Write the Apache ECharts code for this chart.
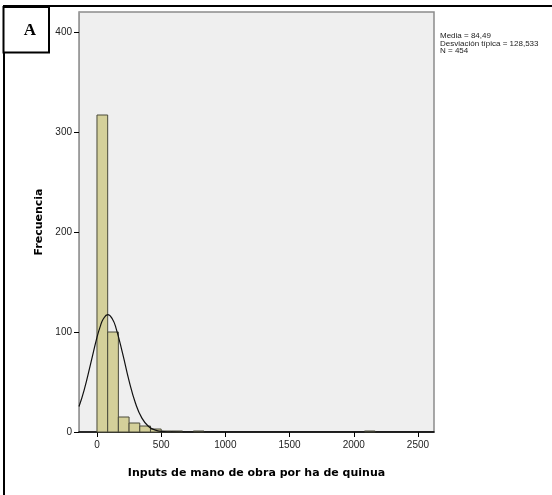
<!DOCTYPE html>
<html>
<head>
<meta charset="utf-8">
<title>Histograma</title>
<script src="https://cdn.jsdelivr.net/npm/echarts@6/dist/echarts.min.js"></script>
<style>
    html, body { margin: 0; padding: 0; background: #fff; }
    #chart { width: 552px; height: 495px; }
</style>
</head>
<body>
<div id="chart"></div>
<script>
// datos del histograma (solo los intervalos con frecuencia)
var binLow   = [0, 83.33, 166.67, 250, 333.33, 416.67, 500, 583.33, 750, 2083.33];
var binHigh  = [83.33, 166.67, 250, 333.33, 416.67, 500, 583.33, 666.67, 833.33, 2166.67];
var binCount = [317, 100, 15, 9, 6, 3, 1, 1, 1, 1];

// curva normal
var curveX = [-140, -100, -50, 0, 25, 50, 84.5, 120, 150, 200, 250, 300, 350, 400, 450, 500, 600, 800, 2625];
var curveY = [25.5, 41.9, 67.9, 94.6, 105.4, 113.2, 117.4, 113.0, 103.1, 78.4, 51.2, 28.8, 13.9, 5.8, 2.1, 0.6, 0.05, 0, 0];

// ejes
var xTicks = [0, 500, 1000, 1500, 2000, 2500];
var yTicks = [0, 100, 200, 300, 400];

var statsText = ['Media = 84,49', 'Desviación típica = 128,533', 'N = 454'];

var chart = echarts.init(document.getElementById('chart'));

var barData = [];
for (var i = 0; i < binCount.length; i++) {
    barData.push([binLow[i], binHigh[i], binCount[i]]);
}
var curveData = [];
for (var j = 0; j < curveX.length; j++) {
    curveData.push([curveX[j], curveY[j]]);
}

var option = {
    backgroundColor: '#fff',
    animation: false,
    grid: {
        left: 79,
        top: 12,
        right: 118,
        bottom: 63,
        show: true,
        backgroundColor: '#efefef',
        borderColor: '#8c8c8c',
        borderWidth: 1.5
    },
    xAxis: {
        type: 'value',
        min: -140,
        max: 2625,
        name: 'Inputs de mano de obra por ha de quinua',
        nameLocation: 'middle',
        nameGap: 36,
        nameTextStyle: {
            fontFamily: 'DejaVu Sans',
            fontWeight: 'bold',
            fontSize: 11,
            color: '#000'
        },
        splitLine: {show: false},
        axisLine: {onZero: false, lineStyle: {color: '#000', width: 1.5}},
        axisTick: {
            customValues: xTicks,
            length: 5,
            lineStyle: {color: '#000'}
        },
        axisLabel: {
            customValues: xTicks,
            margin: 8,
            fontFamily: 'Liberation Sans',
            fontSize: 10,
            color: '#222',
            formatter: function (v) { return String(v); }
        }
    },
    yAxis: {
        type: 'value',
        min: 0,
        max: 420,
        name: 'Frecuencia',
        nameLocation: 'middle',
        nameGap: 33,
        nameRotate: 90,
        nameTextStyle: {
            fontFamily: 'DejaVu Sans',
            fontWeight: 'bold',
            fontSize: 11,
            color: '#000'
        },
        splitLine: {show: false},
        axisLine: {show: true, onZero: false, lineStyle: {color: '#9a9a9a'}},
        axisTick: {
            show: true,
            customValues: yTicks,
            length: 5,
            lineStyle: {color: '#000'}
        },
        axisLabel: {
            customValues: yTicks,
            margin: 7,
            fontFamily: 'Liberation Sans',
            fontSize: 10,
            color: '#222'
        }
    },
    series: [
        {
            // barras del histograma
            type: 'custom',
            data: barData,
            encode: {x: [0, 1], y: 2},
            renderItem: function (params, api) {
                var p0 = api.coord([api.value(0), 0]);
                var p1 = api.coord([api.value(1), api.value(2)]);
                return {
                    type: 'rect',
                    shape: {
                        x: p0[0],
                        y: p1[1],
                        width: p1[0] - p0[0],
                        height: p0[1] - p1[1]
                    },
                    style: {
                        fill: '#d4d09a',
                        stroke: '#4a4a3a',
                        lineWidth: 1
                    }
                };
            },
            z: 2
        },
        {
            // curva normal
            type: 'line',
            data: curveData,
            smooth: true,
            symbol: 'none',
            lineStyle: {color: '#111', width: 1.2},
            z: 3
        }
    ],
    graphic: [
        // marco exterior
        {type: 'line', shape: {x1: 3, y1: 6, x2: 552, y2: 6}, style: {stroke: '#000', lineWidth: 2}},
        {type: 'line', shape: {x1: 4, y1: 6, x2: 4, y2: 495}, style: {stroke: '#000', lineWidth: 2}},
        // caja "A"
        {type: 'rect', shape: {x: 3.5, y: 7, width: 45.5, height: 45.5}, style: {fill: '#fff', stroke: '#000', lineWidth: 2}},
        {
            type: 'text', x: 30, y: 31,
            style: {
                text: 'A',
                fontFamily: 'Liberation Serif',
                fontWeight: 'bold',
                fontSize: 17,
                fill: '#000',
                align: 'center',
                verticalAlign: 'middle'
            }
        },
        // estadísticos
        {
            type: 'text', x: 440, y: 32,
            style: {
                text: statsText.join('\n'),
                fontFamily: 'Liberation Sans',
                fontSize: 8,
                lineHeight: 7.6,
                fill: '#222'
            }
        }
    ]
};
chart.setOption(option);
</script>
</body>
</html>
